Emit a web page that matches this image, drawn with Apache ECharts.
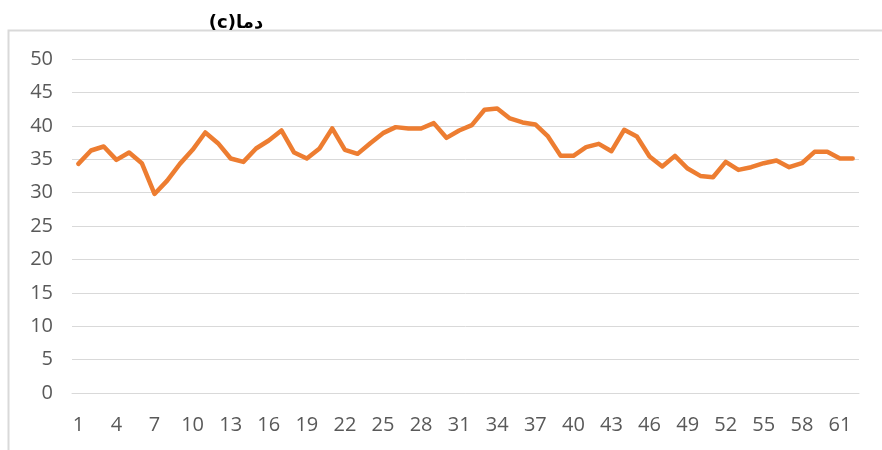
<!DOCTYPE html>
<html>
<head>
<meta charset="utf-8">
<script src="https://cdn.jsdelivr.net/npm/echarts@6/dist/echarts.min.js"></script>
<style>html,body{margin:0;padding:0;background:#fff;}#c{width:882px;height:450px;}</style>
</head>
<body>
<div id="c"></div>
<script>
const titleText = "\u202Bدما(c)\u202C";
const categories = [];
for (let i = 1; i <= 62; i++) categories.push(String(i));
const temperature = [
  34.3, 36.3, 36.9, 34.9, 36.0, 34.4, 29.8, 31.8, 34.3, 36.4,
  39.0, 37.4, 35.1, 34.6, 36.6, 37.8, 39.3, 36.0, 35.1, 36.6,
  39.6, 36.4, 35.8, 37.4, 38.9, 39.8, 39.6, 39.6, 40.4, 38.2,
  39.3, 40.1, 42.4, 42.6, 41.1, 40.5, 40.2, 38.4, 35.5, 35.5,
  36.8, 37.3, 36.2, 39.4, 38.4, 35.4, 33.9, 35.5, 33.6, 32.5,
  32.3, 34.6, 33.4, 33.8, 34.4, 34.8, 33.8, 34.4, 36.1, 36.1,
  35.1, 35.1
];
const chart = echarts.init(document.getElementById('c'), null, {renderer: 'canvas'});
chart.setOption({
  animation: false,
  backgroundColor: '#ffffff',
  title: {
    text: titleText,
    left: 231, top: 9, textAlign: 'center',
    textStyle: {fontFamily: 'DejaVu Sans', fontWeight: 'bold', fontSize: 18, color: '#000'}
  },
  graphic: [{
    type: 'rect', shape: {x: 8.5, y: 30.5, width: 900, height: 500},
    style: {fill: 'none', stroke: '#d9d9d9', lineWidth: 2}, silent: true, z: -1
  }],
  grid: {left: 72, right: 23, top: 59, bottom: 57, containLabel: false},
  xAxis: {
    type: 'category', data: categories, boundaryGap: true,
    axisLine: {lineStyle: {color: '#d9d9d9', width: 1}},
    axisTick: {show: false},
    axisLabel: {interval: 2, color: '#595959', fontSize: 20, fontFamily: 'Open Sans', margin: 22}
  },
  yAxis: {
    type: 'value', min: 0, max: 50, interval: 5,
    axisLine: {show: false}, axisTick: {show: false},
    splitLine: {lineStyle: {color: '#d9d9d9', width: 1}},
    axisLabel: {color: '#595959', fontSize: 20, fontFamily: 'Open Sans', margin: 19}
  },
  series: [{
    type: 'line', data: temperature, showSymbol: false, symbol: 'none',
    lineStyle: {color: '#ED7D31', width: 4.5, cap: 'round', join: 'round'},
    itemStyle: {color: '#ED7D31'}
  }]
});
</script>
</body>
</html>
